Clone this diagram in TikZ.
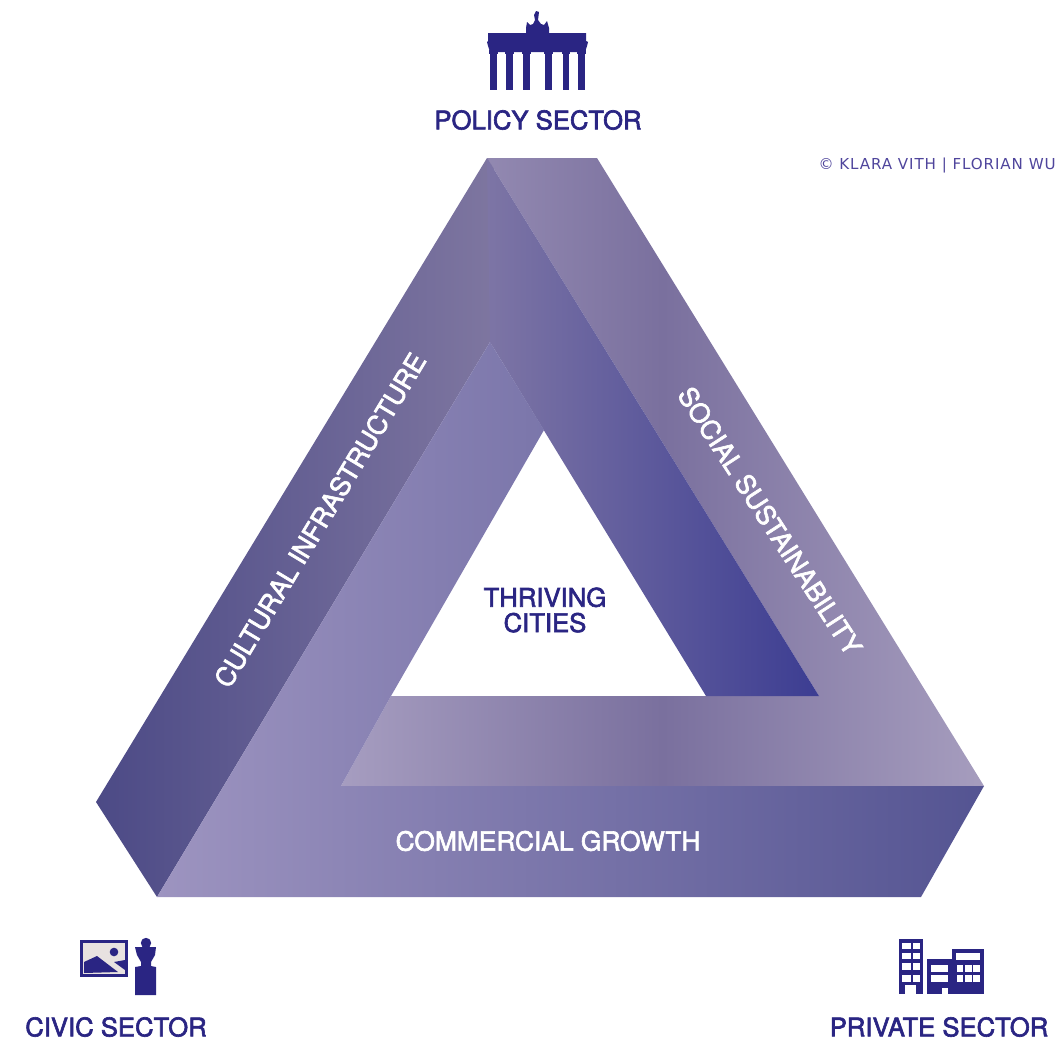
\documentclass[tikz,border=0pt]{standalone}
\usepackage{fontspec}
\setmainfont{TeX Gyre Heros}
\newfontfamily\mediumfont[FakeBold=2.4]{TeX Gyre Heros}
\newfontfamily\creditfont[LetterSpace=6]{DejaVu Sans}
\usepackage{tikz}
\definecolor{navy}{HTML}{2A2583}
\definecolor{credit}{HTML}{4F459C}
\definecolor{canvasgrey}{HTML}{E8E2E0}
\tikzset{
    sectorlabel/.style={text=navy,inner sep=0pt,font=\mediumfont\fontsize{14.6}{17}\selectfont},
    bandlabel/.style={text=white,inner sep=0pt,font=\mediumfont\fontsize{15}{17}\selectfont},
    centerlabel/.style={text=navy,inner sep=0pt,font=\mediumfont\fontsize{14.6}{14.4}\selectfont,align=center}
}
\begin{document}
\begin{tikzpicture}[x=0.02cm,y=-0.02cm]
    \useasboundingbox (0,0) rectangle (1058,1038);
    \shade [left color={rgb,255:red,166;green,157;blue,192},right color={rgb,255:red,166;green,157;blue,190},middle color={rgb,255:red,122;green,112;blue,158}] (487,158)--(597,158)--(984,786)--(341,786)--(391,696)--(819,696)--cycle;
    \shade [left color={rgb,255:red,76;green,74;blue,134},right color={rgb,255:red,126;green,118;blue,160}] (487,158)--(96,802)--(157,897)--(490,342)--(494,348)--(494,169)--cycle;
    \shade [left color={rgb,255:red,125;green,117;blue,165},right color={rgb,255:red,60;green,61;blue,146}] (487,158)--(819,696)--(706,696)--(490,342)--cycle;
    \shade [left color={rgb,255:red,157;green,148;blue,192},right color={rgb,255:red,84;green,84;blue,146}] (490,342)--(544,430)--(391,696)--(341,786)--(984,786)--(921,897)--(157,897)--cycle;
    \node (cultural) [bandlabel,rotate=59] at (320,520) {CULTURAL INFRASTRUCTURE};
    \node (social) [bandlabel,rotate=-57] at (770,521) {SOCIAL SUSTAINABILITY};
    \node (commercial) [bandlabel] at (548,841) {COMMERCIAL GROWTH};
    \node (thriving) [centerlabel] at (545,610) {THRIVING\\CITIES};
    \node (policy) [sectorlabel] at (538,120) {POLICY SECTOR};
    \node (civic) [sectorlabel] at (116,1027) {CIVIC SECTOR};
    \node (private) [sectorlabel] at (939,1027) {PRIVATE SECTOR};
    \node (copyright) [text=credit,font=\creditfont\fontsize{8.6}{10}\selectfont,anchor=east,inner sep=0pt] at (1056,166) {© KLARA VITH | FLORIAN WU};
    \path [fill=navy] (488,33)--(526,33)--(526,28)--(527,22)--(530,25)--(533,24)--(535,20)--(534,15)--(536,11)--(539,12)--(538,20)--(541,24)--(544,25)--(547,21)--(549,28)--(549,33)--(586,33)--(586,41)--(588,42)--(587,46)--(585,52)--(490,52)--(488,46)--(487,42)--(488,41)--cycle;
    \foreach \colx/\colw in {490/7,506/7,523/7,545/7,563/6,578/7} {
        \path [fill=navy] (\colx,50) rectangle (\colx+\colw,90);
        \path [fill=navy] (\colx-1,50) rectangle (\colx+\colw+1,54);
    }
    \path [fill=navy] (80,940) rectangle (128,977);
    \path [fill=canvasgrey] (83,943) rectangle (125,974);
    \path [fill=navy] (84,962)--(97,956)--(118,972)--(84,973)--cycle;
    \path [fill=navy] (114,962)--(125,960)--(125,970)--cycle;
    \draw [fill=navy,draw=none] (114,952) circle [radius=4.3];
    \draw [fill=navy,draw=none] (146,943) circle [radius=5.2];
    \path [fill=navy] (135,947)--(156,947)--(155,955)--(151,962)--(151,966)--(156,967)--(156,995)--(135,995)--(135,967)--(141,966)--(141,962)--(137,955)--cycle;
    \path [fill=navy] (899,939) rectangle (923,994);
    \path [fill=navy] (927,959) rectangle (953,994);
    \path [fill=navy] (952,949) rectangle (984,994);
    \foreach \rowy/\rowh in {943/6,953/6,963/7,975/7} {
        \path [fill=white] (902,\rowy) rectangle (911,\rowy+\rowh);
        \path [fill=white] (913,\rowy) rectangle (920,\rowy+\rowh);
    }
    \path [fill=white] (905,985) rectangle (916,994);
    \path [fill=white] (931,965) rectangle (948,972);
    \path [fill=white] (931,975) rectangle (948,982);
    \path [fill=white] (942,988) rectangle (948,994);
    \path [fill=white] (956,953) rectangle (980,960);
    \foreach \winx/\winw in {957/6,965/7,973/7} {
        \path [fill=white] (\winx,965) rectangle (\winx+\winw,972);
        \path [fill=white] (\winx,975) rectangle (\winx+\winw,982);
    }
\end{tikzpicture}
\end{document}
